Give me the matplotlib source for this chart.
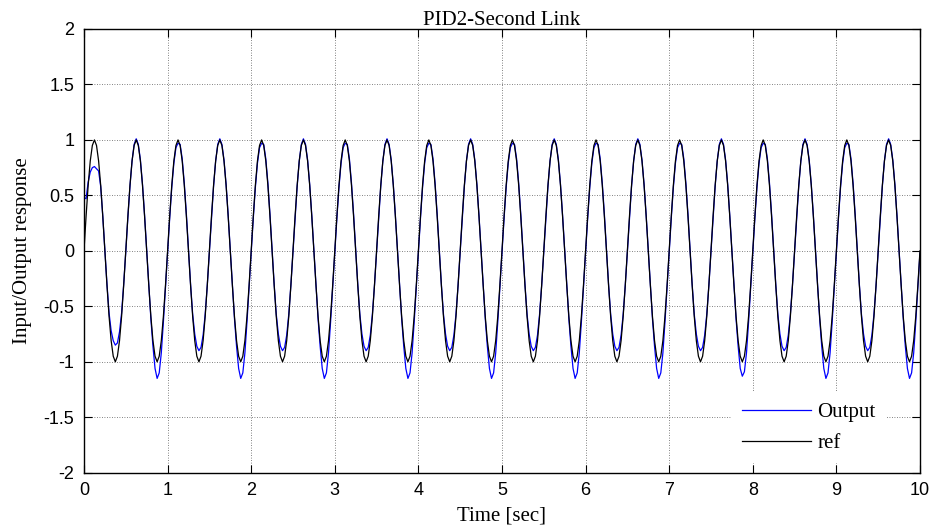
import numpy as np
import matplotlib
matplotlib.use("Agg")
import matplotlib.pyplot as plt

# sampled every 0.025 s, one row = one 0.5 s cycle of the reference
ref = [
    0.00, 0.31, 0.59, 0.81, 0.95, 1.00, 0.95, 0.81, 0.59, 0.31, 0.00, -0.31, -0.59, -0.81, -0.95, -1.00, -0.95, -0.81, -0.59, -0.31,
    0.00, 0.31, 0.59, 0.81, 0.95, 1.00, 0.95, 0.81, 0.59, 0.31, 0.00, -0.31, -0.59, -0.81, -0.95, -1.00, -0.95, -0.81, -0.59, -0.31,
    0.00, 0.31, 0.59, 0.81, 0.95, 1.00, 0.95, 0.81, 0.59, 0.31, 0.00, -0.31, -0.59, -0.81, -0.95, -1.00, -0.95, -0.81, -0.59, -0.31,
    0.00, 0.31, 0.59, 0.81, 0.95, 1.00, 0.95, 0.81, 0.59, 0.31, 0.00, -0.31, -0.59, -0.81, -0.95, -1.00, -0.95, -0.81, -0.59, -0.31,
    0.00, 0.31, 0.59, 0.81, 0.95, 1.00, 0.95, 0.81, 0.59, 0.31, 0.00, -0.31, -0.59, -0.81, -0.95, -1.00, -0.95, -0.81, -0.59, -0.31,
    0.00, 0.31, 0.59, 0.81, 0.95, 1.00, 0.95, 0.81, 0.59, 0.31, 0.00, -0.31, -0.59, -0.81, -0.95, -1.00, -0.95, -0.81, -0.59, -0.31,
    0.00, 0.31, 0.59, 0.81, 0.95, 1.00, 0.95, 0.81, 0.59, 0.31, 0.00, -0.31, -0.59, -0.81, -0.95, -1.00, -0.95, -0.81, -0.59, -0.31,
    0.00, 0.31, 0.59, 0.81, 0.95, 1.00, 0.95, 0.81, 0.59, 0.31, 0.00, -0.31, -0.59, -0.81, -0.95, -1.00, -0.95, -0.81, -0.59, -0.31,
    0.00, 0.31, 0.59, 0.81, 0.95, 1.00, 0.95, 0.81, 0.59, 0.31, 0.00, -0.31, -0.59, -0.81, -0.95, -1.00, -0.95, -0.81, -0.59, -0.31,
    0.00, 0.31, 0.59, 0.81, 0.95, 1.00, 0.95, 0.81, 0.59, 0.31, 0.00, -0.31, -0.59, -0.81, -0.95, -1.00, -0.95, -0.81, -0.59, -0.31,
    0.00, 0.31, 0.59, 0.81, 0.95, 1.00, 0.95, 0.81, 0.59, 0.31, 0.00, -0.31, -0.59, -0.81, -0.95, -1.00, -0.95, -0.81, -0.59, -0.31,
    0.00, 0.31, 0.59, 0.81, 0.95, 1.00, 0.95, 0.81, 0.59, 0.31, 0.00, -0.31, -0.59, -0.81, -0.95, -1.00, -0.95, -0.81, -0.59, -0.31,
    0.00, 0.31, 0.59, 0.81, 0.95, 1.00, 0.95, 0.81, 0.59, 0.31, 0.00, -0.31, -0.59, -0.81, -0.95, -1.00, -0.95, -0.81, -0.59, -0.31,
    0.00, 0.31, 0.59, 0.81, 0.95, 1.00, 0.95, 0.81, 0.59, 0.31, 0.00, -0.31, -0.59, -0.81, -0.95, -1.00, -0.95, -0.81, -0.59, -0.31,
    0.00, 0.31, 0.59, 0.81, 0.95, 1.00, 0.95, 0.81, 0.59, 0.31, 0.00, -0.31, -0.59, -0.81, -0.95, -1.00, -0.95, -0.81, -0.59, -0.31,
    0.00, 0.31, 0.59, 0.81, 0.95, 1.00, 0.95, 0.81, 0.59, 0.31, 0.00, -0.31, -0.59, -0.81, -0.95, -1.00, -0.95, -0.81, -0.59, -0.31,
    0.00, 0.31, 0.59, 0.81, 0.95, 1.00, 0.95, 0.81, 0.59, 0.31, 0.00, -0.31, -0.59, -0.81, -0.95, -1.00, -0.95, -0.81, -0.59, -0.31,
    0.00, 0.31, 0.59, 0.81, 0.95, 1.00, 0.95, 0.81, 0.59, 0.31, 0.00, -0.31, -0.59, -0.81, -0.95, -1.00, -0.95, -0.81, -0.59, -0.31,
    0.00, 0.31, 0.59, 0.81, 0.95, 1.00, 0.95, 0.81, 0.59, 0.31, 0.00, -0.31, -0.59, -0.81, -0.95, -1.00, -0.95, -0.81, -0.59, -0.31,
    0.00, 0.31, 0.59, 0.81, 0.95, 1.00, 0.95, 0.81, 0.59, 0.31, 0.00, -0.31, -0.59, -0.81, -0.95, -1.00, -0.95, -0.81, -0.59, -0.31,
    0.00,
]

# plant output, same sampling; troughs alternate shallow (-0.9) / deep (-1.15)
output = [
    0.48, 0.47, 0.62, 0.71, 0.75, 0.76, 0.74, 0.72, 0.58, 0.31, 0.01, -0.30, -0.56, -0.72, -0.81, -0.85, -0.83, -0.73, -0.56, -0.30,
    -0.01, 0.30, 0.58, 0.81, 0.96, 1.01, 0.96, 0.82, 0.60, 0.32, 0.01, -0.31, -0.61, -0.86, -1.06, -1.15, -1.10, -0.92, -0.64, -0.33,
    -0.02, 0.29, 0.57, 0.79, 0.93, 0.97, 0.96, 0.83, 0.61, 0.33, 0.02, -0.30, -0.57, -0.75, -0.86, -0.90, -0.87, -0.76, -0.57, -0.31,
    -0.01, 0.30, 0.58, 0.81, 0.96, 1.01, 0.96, 0.82, 0.60, 0.32, 0.01, -0.31, -0.61, -0.86, -1.06, -1.15, -1.10, -0.92, -0.64, -0.33,
    -0.02, 0.29, 0.57, 0.79, 0.93, 0.97, 0.96, 0.83, 0.61, 0.33, 0.02, -0.30, -0.57, -0.75, -0.86, -0.90, -0.87, -0.76, -0.57, -0.31,
    -0.01, 0.30, 0.58, 0.81, 0.96, 1.01, 0.96, 0.82, 0.60, 0.32, 0.01, -0.31, -0.61, -0.86, -1.06, -1.15, -1.10, -0.92, -0.64, -0.33,
    -0.02, 0.29, 0.57, 0.79, 0.93, 0.97, 0.96, 0.83, 0.61, 0.33, 0.02, -0.30, -0.57, -0.75, -0.86, -0.90, -0.87, -0.76, -0.57, -0.31,
    -0.01, 0.30, 0.58, 0.81, 0.96, 1.01, 0.96, 0.82, 0.60, 0.32, 0.01, -0.31, -0.61, -0.86, -1.06, -1.15, -1.10, -0.92, -0.64, -0.33,
    -0.02, 0.29, 0.57, 0.79, 0.93, 0.97, 0.96, 0.83, 0.61, 0.33, 0.02, -0.30, -0.57, -0.75, -0.86, -0.90, -0.87, -0.76, -0.57, -0.31,
    -0.01, 0.30, 0.58, 0.81, 0.96, 1.01, 0.96, 0.82, 0.60, 0.32, 0.01, -0.31, -0.61, -0.86, -1.06, -1.15, -1.10, -0.92, -0.64, -0.33,
    -0.02, 0.29, 0.57, 0.79, 0.93, 0.97, 0.96, 0.83, 0.61, 0.33, 0.02, -0.30, -0.57, -0.75, -0.86, -0.90, -0.87, -0.76, -0.57, -0.31,
    -0.01, 0.30, 0.58, 0.81, 0.96, 1.01, 0.96, 0.82, 0.60, 0.32, 0.01, -0.31, -0.61, -0.86, -1.06, -1.15, -1.10, -0.92, -0.64, -0.33,
    -0.02, 0.29, 0.57, 0.79, 0.93, 0.97, 0.96, 0.83, 0.61, 0.33, 0.02, -0.30, -0.57, -0.75, -0.86, -0.90, -0.87, -0.76, -0.57, -0.31,
    -0.01, 0.30, 0.58, 0.81, 0.96, 1.01, 0.96, 0.82, 0.60, 0.32, 0.01, -0.31, -0.61, -0.86, -1.06, -1.15, -1.10, -0.92, -0.64, -0.33,
    -0.02, 0.29, 0.57, 0.79, 0.93, 0.97, 0.96, 0.83, 0.61, 0.33, 0.02, -0.30, -0.57, -0.75, -0.86, -0.90, -0.87, -0.76, -0.57, -0.31,
    -0.01, 0.30, 0.58, 0.81, 0.96, 1.01, 0.96, 0.82, 0.60, 0.32, 0.01, -0.31, -0.61, -0.86, -1.06, -1.13, -1.09, -0.92, -0.64, -0.33,
    -0.02, 0.29, 0.57, 0.79, 0.93, 0.97, 0.96, 0.83, 0.61, 0.33, 0.02, -0.30, -0.57, -0.75, -0.86, -0.90, -0.87, -0.76, -0.57, -0.31,
    -0.01, 0.30, 0.58, 0.81, 0.96, 1.01, 0.96, 0.82, 0.60, 0.32, 0.01, -0.31, -0.61, -0.86, -1.06, -1.15, -1.10, -0.92, -0.64, -0.33,
    -0.02, 0.29, 0.57, 0.79, 0.93, 0.97, 0.96, 0.83, 0.61, 0.33, 0.02, -0.30, -0.57, -0.75, -0.86, -0.90, -0.87, -0.76, -0.57, -0.31,
    -0.01, 0.30, 0.58, 0.81, 0.96, 1.01, 0.96, 0.82, 0.60, 0.32, 0.01, -0.31, -0.61, -0.86, -1.06, -1.15, -1.10, -0.92, -0.64, -0.33,
    -0.02,
]

t_end = 10
x_ticks = list(range(0, 11))
y_ticks = [-2, -1.5, -1, -0.5, 0, 0.5, 1, 1.5, 2]

SERIF = ["Liberation Serif", "DejaVu Serif"]
SANS = ["Liberation Sans", "DejaVu Sans"]

plt.rcParams["axes.unicode_minus"] = False

t = np.linspace(0, t_end, len(ref))

fig = plt.figure(figsize=(9.3, 5.31), dpi=100)
ax = fig.add_axes([0.0903, 0.1098, 0.8989, 0.8356])

ax.plot(t, output, color="#0000ff", linewidth=0.9, label="Output")
ax.plot(t, ref, color="black", linewidth=0.9, label="ref")

ax.set_xlim(0, t_end)
ax.set_ylim(-2, 2)
ax.set_xticks(x_ticks)
ax.set_yticks(y_ticks)
ax.set_yticklabels([f"{v:g}" for v in y_ticks])

ax.grid(True, color="0.35", linestyle=(0, (1, 2)), linewidth=0.6)
ax.tick_params(direction="in", length=6, width=0.8, top=True, right=True,
               labelsize=13, pad=7)
for lab in ax.get_xticklabels() + ax.get_yticklabels():
    lab.set_family(SANS)
for sp in ax.spines.values():
    sp.set_linewidth(1.0)

ax.set_title("PID2-Second Link", family=SERIF, fontsize=15, pad=3)
ax.set_xlabel("Time [sec]", family=SERIF, fontsize=15, labelpad=5)
ax.set_ylabel("Input/Output response", family=SERIF, fontsize=15, labelpad=8)

leg = ax.legend(loc="upper left", bbox_to_anchor=(0.775, 0.182),
                prop={"family": SERIF, "size": 15}, frameon=True,
                fancybox=False, framealpha=1, edgecolor="none",
                handlelength=3.3, handletextpad=0.3, borderpad=0.5,
                labelspacing=0.55, borderaxespad=0)
leg.get_frame().set_facecolor("white")

fig.savefig("out.png", dpi=100)
